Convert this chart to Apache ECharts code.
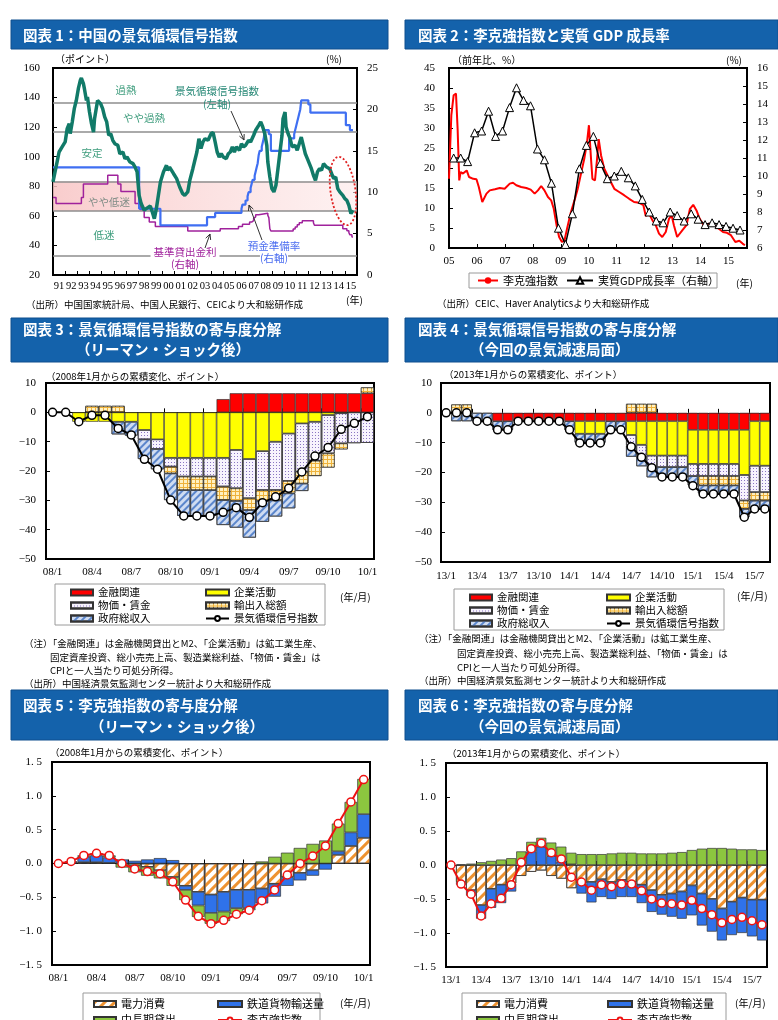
<!DOCTYPE html>
<html>
<head>
<meta charset="utf-8">
<script src="https://cdn.jsdelivr.net/npm/echarts@6.0.0/dist/echarts.min.js"></script>
<style>
html, body { margin: 0; padding: 0; background: #fff; }
#main { width: 778px; height: 1020px; }
</style>
</head>
<body>
<div id="main"></div>
<script>
var JP = '"Noto Sans CJK JP", "Noto Sans", sans-serif'
var NUM = '"Liberation Serif", "DejaVu Serif", serif'

// ---------- 図表1 : 月次（1991年1月 = 0）----------
var years1 = ['91','92','93','94','95','96','97','98','99','00','01','02','03','04','05','06','07','08','09','10','11','12','13','14','15']
var signalIdx = [[0,83],[2,89.7],[4,96.4],[6,103.2],[9,106.6],[12,110],[14,119],[16,122.4],[17,115.6],[19,123.5],[21,132.5],[23,138],[25,146],[27,151.7],[28,153.2],[30,149.4],[31,146],[33,138],[34,140.4],[36,130.2],[38,122.4],[40,116.7],[41,125.7],[44,138],[45,139.3],[47,135.9],[49,132.5],[51,126.9],[53,123.5],[55,114.5],[57,115.6],[59,111.1],[61,108.8],[64,107.7],[66,102],[69,103.2],[71,98.7],[73,99.8],[76,96.4],[79,95.3],[81,93],[83,89.7],[85,73.9],[87,68.3],[90,63.8],[92,64.9],[96,66.7],[98,62.6],[100,58.1],[102,64.9],[104,73.9],[106,82.9],[109,89.7],[112,94.2],[113,90.8],[115,93],[117,90.8],[119,88.5],[122,85.2],[125,79.5],[128,75],[130,73.9],[133,76.2],[135,84],[138,91.9],[140,97.6],[142,103.2],[144,112.2],[146,105.5],[148,110],[150,112.2],[153,111.1],[156,115.6],[158,116.3],[160,110],[162,103.2],[164,99.8],[166,102],[168,99.8],[171,98.7],[173,102],[175,103.2],[177,106.6],[179,103.2],[181,106.6],[184,104.3],[186,108.8],[188,106.6],[190,107.7],[193,111.1],[195,110],[198,114.5],[200,117.9],[203,121.2],[205,123.5],[207,120.1],[209,115.6],[211,107.7],[212,96.4],[214,86.3],[216,78.4],[218,76.2],[220,80.7],[222,91.9],[224,103.2],[226,114.5],[227,125.7],[229,130.2],[230,120.1],[232,115.6],[234,112.2],[236,106.6],[239,107.7],[241,104.3],[243,108.8],[245,113.3],[247,107.7],[249,102],[251,98.7],[253,95.3],[255,91.9],[257,87.4],[259,84],[261,89.7],[263,91.9],[265,90.8],[267,95.3],[270,93],[273,91.9],[275,88.5],[277,85.2],[279,86.3],[281,78.4],[283,76.2],[286,73.9],[288,71.6],[290,70.5],[292,67.1],[294,61.5],[296,63.8]]
var reserveRatio = [[0,13],[85,8],[106,6],[152,7],[160,7.5],[186,8],[187,8.5],[190,9],[192,9.5],[193,10],[195,10.5],[196,11],[197,11.5],[199,12],[200,12.5],[201,13],[202,13.5],[203,14.5],[204,15],[206,15.5],[207,16],[208,16.5],[209,17.5],[213,17],[215,15],[233,16.5],[238,17],[239,17.5],[240,18],[241,18.5],[242,19],[243,19.5],[244,20],[245,21.1],[252,20.6],[254,19.6],[289,18.1],[293,17.5],[296,17.5]]
var lendingRate = [[0,9.36],[3,8.64],[28,9.36],[30,10.98],[54,12.06],[64,10.98],[67,10.08],[81,8.64],[86,7.92],[90,6.93],[95,6.39],[101,5.85],[133,5.31],[165,5.58],[183,5.85],[187,6.12],[194,6.39],[196,6.57],[198,6.84],[199,7.02],[200,7.29],[203,7.47],[212,7.2],[213,6.93],[214,5.58],[215,5.31],[237,5.56],[239,5.81],[241,6.06],[243,6.31],[246,6.56],[257,6.31],[258,6.0],[286,5.6],[290,5.35],[292,5.1],[293,4.85],[295,4.6],[296,4.6]]
var bandLines = [136.7, 116.7, 83.3, 63.3, 33.3]

// ---------- 図表2 : 月次（2005年1月 = 0）----------
var liIdx2 = [[0,17.3],[1,33.2],[2,38.2],[3,38.6],[3.7,29.8],[4.4,16.9],[5,19],[6,18.6],[7.6,19.4],[8.6,17.75],[10.4,17.3],[11.8,17.2],[12.8,15.25],[14.3,11.5],[15.1,11.9],[16.1,13.6],[17.5,14.4],[19.7,14.7],[21.8,15],[23.9,14.8],[26.1,16.1],[27.5,16.3],[28.9,15.7],[31,15.25],[33.2,15],[35.1,14.6],[36.8,13.6],[38.2,14.4],[39.6,15.5],[41,14.4],[42.5,12.75],[43.9,11.9],[45,9.8],[46.2,5.7],[47.3,2.75],[48.5,1.5],[49.6,1.9],[50.7,4.8],[52.2,8.6],[53.9,11.9],[55.3,14.8],[56.7,18.6],[58.1,22.3],[59.3,26.5],[60.1,30.7],[61,22.3],[61.6,17.3],[62.7,16.9],[63.6,22.3],[64.3,27.2],[65.3,23.2],[66.7,19.8],[68.8,17.3],[71,14.8],[73.1,14],[75.2,13.2],[77.4,12.3],[79.5,11.5],[81.7,11.3],[83.5,10.7],[84.5,8],[85.9,8.6],[87.4,6.9],[88.8,5.7],[90.2,3.6],[91.6,2.75],[93.1,4],[94.5,7.3],[95.6,8.2],[96.6,5.7],[98,2.75],[100.2,4.4],[102,5.7],[103.5,9.8],[104.9,10.8],[106.3,9.4],[107.7,7.3],[109.4,5.7],[111.6,6.1],[113.7,5.8],[115.9,4.8],[117.7,4],[119.4,3.8],[121.1,3.2],[123,1.5],[124.7,1.8],[126.1,1.1],[127.1,0.7]]
// 四半期（2005Q1〜2015Q2）
var gdpGrowth = [11.0,11.0,10.8,12.4,12.5,13.6,12.2,12.5,13.8,14.9,14.2,13.9,11.5,10.9,9.6,7.1,6.2,7.9,10.4,11.7,12.2,10.7,9.85,10.0,10.26,9.9,9.45,8.7,8.0,7.5,7.4,8.0,7.8,7.5,7.9,7.6,7.3,7.4,7.3,7.2,7.1,7.0]

// ---------- 図表3 ----------
var months3 = ['08/1','08/2','08/3','08/4','08/5','08/6','08/7','08/8','08/9','08/10','08/11','08/12','09/1','09/2','09/3','09/4','09/5','09/6','09/7','09/8','09/9','09/10','09/11','09/12','10/1']
var kinyu3 = [0,0,0,0,0,0,0,0,0,0,0,0,0,4.5,6.5,6.5,6.5,6.5,6.5,6.5,6.5,6.5,6.5,6.5,6.5]
var kigyo3 = [0,0,-3.2,-3.2,-3.2,-3.2,-3.2,-6.0,-9.2,-15.5,-15.5,-15.5,-15.5,-15.5,-12.8,-15.9,-13.2,-10.0,-7.2,-3.75,-3.2,-0.9,-0.3,0,0]
var bukka3 = [0,0,0,0,0,0,0,-3.2,-3.3,-3.0,-6.4,-6.4,-6.4,-9.8,-13.1,-13.4,-13.3,-16.5,-16.2,-16.5,-13.3,-13.1,-10.3,-10.5,-10.4]
var yushutsu3 = [0,0,0,2.2,2.2,2.2,0,0,0,-2.3,-4.6,-4.6,-4.6,-4.6,-4.3,-4.0,-3.7,-3.5,-4.2,-4.0,-5.2,-4.8,-2.0,0,2.0]
var seifu3 = [0,0,0,0,0,-4.3,-4.7,-6.7,-6.9,-9.1,-8.8,-8.8,-8.8,-8.5,-9.1,-9.4,-7.1,-5.5,-5.1,-2.55,0,0,0,0,0]
var signal3 = [0,0,-3.2,-1.0,-1.0,-5.5,-7.7,-16.0,-19.4,-29.9,-35.3,-35.3,-35.3,-34.1,-32.5,-35.8,-30.8,-28.8,-25.9,-20.3,-14.9,-12.0,-5.8,-3.75,-1.5]

// ---------- 図表4 ----------
var months4 = ['13/1','13/2','13/3','13/4','13/5','13/6','13/7','13/8','13/9','13/10','13/11','13/12','14/1','14/2','14/3','14/4','14/5','14/6','14/7','14/8','14/9','14/10','14/11','14/12','15/1','15/2','15/3','15/4','15/5','15/6','15/7','15/8']
var kinyu4 = [0,0,0,0,0,-2.8,-2.8,-2.8,-2.8,-2.8,-2.8,-2.8,-2.8,-2.8,-2.8,-2.8,-2.8,-2.8,-2.8,-2.8,-2.8,-2.8,-2.8,-2.8,-5.7,-5.7,-5.7,-5.7,-5.7,-5.7,-2.8,-2.8]
var kigyo4 = [0,0,0,0,0,0,0,0,0,0,0,0,0,-4.2,-4.2,-4.2,0,0,-4.6,-7.9,-11.5,-11.5,-11.5,-11.5,-11.4,-11.4,-11.4,-11.4,-11.4,-15.1,-14.9,-14.9]
var bukka4 = [0,0,0,0,0,0,0,0,0,0,0,0,0,0,0,0,0,0,-3.6,-3.6,-3.9,-3.9,-3.9,-3.9,-4.1,-4.1,-4.1,-4.1,-4.1,-8.6,-8.9,-8.9]
var yushutsu4 = [0,2.8,2.8,0,0,0,0,0,0,0,0,0,0,0,0,0,0,0,3.0,3.0,3.0,0,0,0,0,-3.1,-3.1,-3.1,-3.1,-2.8,-2.8,-2.8]
var seifu4 = [0,-2.8,-2.8,-2.8,-2.8,-2.9,-2.9,0,0,0,0,0,-2.9,-3.0,-3.0,-3.0,-2.9,-2.9,-3.7,-3.6,-3.4,-3.4,-3.4,-3.4,-3.1,-2.7,-2.7,-2.7,-2.7,-2.8,-2.8,-2.8]
var signal4 = [0,0,0,-2.8,-2.8,-5.7,-5.7,-2.8,-2.8,-2.8,-2.8,-2.8,-5.7,-10.1,-10.1,-10.1,-5.7,-5.7,-11.4,-14.9,-18.4,-21.5,-21.5,-21.5,-24.4,-27.2,-27.2,-27.2,-27.2,-35.0,-32.2,-32.2]

// ---------- 図表5 ----------
var denryoku5 = [0,0,0.02,0.02,0.01,0,-0.03,-0.05,-0.1,-0.2,-0.33,-0.42,-0.46,-0.42,-0.39,-0.39,-0.37,-0.3,-0.2,-0.14,-0.1,0,0.13,0.26,0.38]
var tetsudo5 = [0,0.02,0.08,0.1,0.08,0.06,0.04,0.06,0.08,0.05,-0.06,-0.2,-0.27,-0.29,-0.27,-0.27,-0.22,-0.19,-0.13,-0.11,-0.08,-0.09,0.05,0.2,0.35]
var kashidashi5 = [0,0.01,0.02,0.03,0.03,-0.06,-0.1,-0.13,-0.12,-0.13,-0.15,-0.17,-0.16,-0.14,-0.09,-0.03,0.03,0.1,0.16,0.23,0.29,0.34,0.41,0.45,0.52]
var liIdx5 = [0,0.03,0.12,0.15,0.12,0,-0.08,-0.12,-0.15,-0.27,-0.54,-0.78,-0.89,-0.84,-0.75,-0.69,-0.55,-0.39,-0.17,0,0.11,0.26,0.59,0.91,1.24]

// ---------- 図表6 ----------
var denryoku6 = [0,-0.25,-0.37,-0.59,-0.35,-0.29,-0.27,-0.16,-0.1,-0.08,-0.16,-0.2,-0.34,-0.27,-0.25,-0.21,-0.25,-0.22,-0.25,-0.29,-0.37,-0.44,-0.42,-0.39,-0.3,-0.42,-0.5,-0.64,-0.54,-0.48,-0.51,-0.51]
var tetsudo6 = [0,-0.04,-0.08,-0.2,-0.28,-0.27,-0.12,0,0.2,0.27,0.13,0.05,0.01,-0.15,-0.3,-0.26,-0.25,-0.25,-0.22,-0.27,-0.32,-0.29,-0.34,-0.4,-0.44,-0.47,-0.48,-0.47,-0.49,-0.52,-0.54,-0.6]
var kashidashi6 = [0,0.01,0.02,0.04,0.06,0.08,0.1,0.2,0.14,0.13,0.2,0.22,0.17,0.16,0.16,0.16,0.17,0.18,0.18,0.17,0.17,0.17,0.18,0.19,0.22,0.24,0.25,0.25,0.24,0.23,0.23,0.22]
var liIdx6 = [0,-0.28,-0.43,-0.75,-0.57,-0.49,-0.29,0.04,0.24,0.32,0.18,0.09,-0.18,-0.25,-0.37,-0.29,-0.32,-0.28,-0.28,-0.38,-0.5,-0.56,-0.57,-0.59,-0.52,-0.64,-0.73,-0.85,-0.8,-0.77,-0.82,-0.88]

// ---------- styles ----------
var ST = {
  red: { color: '#ff0000' },
  yellow: { color: '#ffff00' },
  dots: { color: '#f7f3fd', decal: { symbol: 'rect', symbolSize: 1, dashArrayX: [1, 2], dashArrayY: [1, 2], color: '#8a76c2' } },
  check: { color: '#eeb23c', decal: { symbol: 'rect', symbolSize: 1, dashArrayX: [3, 1], dashArrayY: [3, 1], color: '#fff1c2' } },
  hatchBlue: { color: '#cfdcf2', decal: { symbol: 'rect', symbolSize: 1, dashArrayX: [1, 0], dashArrayY: [1.5, 2.5], rotation: -Math.PI / 4, color: '#5b86cc' } },
  hatchOrange: { color: '#ffffff', decal: { symbol: 'rect', symbolSize: 1, dashArrayX: [1, 0], dashArrayY: [2.5, 3.5], rotation: -Math.PI / 4, color: '#ee9230' } },
  blue: { color: '#2f72ea' },
  green: { color: '#8cc63f' }
}

function stackBars(list, xi, yi, stack) {
  return list.map(function (s) {
    return {
      name: s.name, type: 'bar', stack: stack, xAxisIndex: xi, yAxisIndex: yi,
      barCategoryGap: '0%',
      data: s.data.map(function (v) { return v === 0 ? null : v }),
      itemStyle: Object.assign({ borderColor: '#333', borderWidth: 0.7 }, s.style),
      z: 2
    }
  })
}

function dotLine(name, data, xi, yi, color) {
  return {
    name: name, type: 'line', xAxisIndex: xi, yAxisIndex: yi, data: data,
    symbol: 'circle', symbolSize: 8, showAllSymbol: true,
    itemStyle: { color: '#fff', borderColor: color, borderWidth: 1.5 },
    lineStyle: { color: color, width: 2 }, z: 10
  }
}

var axisText = { color: '#000', fontFamily: NUM, fontSize: 11 }
function valAxis(gi, pos, min, max, step, margin, fmt) {
  return {
    gridIndex: gi, type: 'value', position: pos, min: min, max: max, interval: step,
    axisLine: { show: false, onZero: false },
    axisTick: { show: true, inside: true, length: 4, lineStyle: { color: '#000' } },
    axisLabel: Object.assign({ margin: margin, formatter: fmt }, axisText),
    splitLine: { show: false }
  }
}
function catAxes(gi, cats, margin) {
  return [{
    gridIndex: gi, type: 'category', data: cats, position: 'bottom',
    axisLine: { show: false, onZero: false }, axisTick: { show: false },
    axisLabel: Object.assign({ interval: 2, margin: margin }, axisText)
  }, {
    gridIndex: gi, type: 'category', data: cats, position: 'bottom',
    axisLine: { show: true, onZero: true, lineStyle: { color: '#000', width: 1 } },
    axisTick: { show: true, inside: true, interval: 2, length: 4, lineStyle: { color: '#000' } },
    axisLabel: { show: false }
  }]
}
var minus = function (v) { return v < 0 ? '\u2212' + (-v) : String(v) }
var dec = function (v) { return (v < 0 ? '\u2212' : '') + Math.abs(v).toFixed(1).replace('.', '. ') }

// ---------- graphic helpers ----------
var graphics = []
function txt(x, y, s, o) {
  graphics.push({
    type: 'text', x: x, y: y, z: 50,
    style: Object.assign({ text: s, fill: '#000', fontSize: 10, fontFamily: JP,
      align: 'left', textAlign: 'left', verticalAlign: 'middle', textVerticalAlign: 'middle' }, o || {})
  })
}
function header(x, y, w, h, lines) {
  graphics.push({ type: 'rect', z: 40, shape: { x: x, y: y, width: w, height: h }, style: { fill: '#1462ab', stroke: '#0e4f8e', lineWidth: 1 } })
  lines.forEach(function (l) {
    txt(l[0], l[1], l[2], { fill: '#fff', fontSize: 14.5, fontWeight: 'bold' })
  })
}
function box(x, y, w, h) {
  graphics.push({ type: 'rect', z: 30, shape: { x: x, y: y, width: w, height: h }, style: { fill: '#fff', stroke: '#9a9a9a', lineWidth: 1 } })
}
function arrow(x1, y1, x2, y2) {
  var a = Math.atan2(y2 - y1, x2 - x1), L = 6
  graphics.push({ type: 'line', z: 50, shape: { x1: x1, y1: y1, x2: x2, y2: y2 }, style: { stroke: '#333', lineWidth: 1 } })
  graphics.push({ type: 'polyline', z: 50, shape: { points: [
    [x2 - L * Math.cos(a - 0.45), y2 - L * Math.sin(a - 0.45)], [x2, y2],
    [x2 - L * Math.cos(a + 0.45), y2 - L * Math.sin(a + 0.45)]] }, style: { stroke: '#333', lineWidth: 1, fill: null } })
}

// headers
header(11, 20, 377, 29, [[23, 35, '図表 1：中国の景気循環信号指数']])
header(405, 20, 373, 29, [[418, 35, '図表 2：李克強指数と実質 GDP 成長率']])
header(11, 318, 377, 44, [[23, 329, '図表 3：景気循環信号指数の寄与度分解'], [76, 349, '（リーマン・ショック後）']])
header(405, 318, 373, 44, [[418, 329, '図表 4：景気循環信号指数の寄与度分解'], [470, 349, '（今回の景気減速局面）']])
header(11, 690, 377, 50, [[23, 705, '図表 5：李克強指数の寄与度分解'], [90, 726, '（リーマン・ショック後）']])
header(405, 690, 373, 50, [[418, 705, '図表 6：李克強指数の寄与度分解'], [470, 726, '（今回の景気減速局面）']])

// chart 1 texts
txt(55, 59, '（ポイント）')
txt(326, 59, '(%)')
txt(346, 300, '(年)')
txt(26, 304, '（出所）中国国家統計局、中国人民銀行、CEICより大和総研作成', { fontSize: 9.5 })
var zoneC = '#3d9c7c'
txt(126, 90, '過熱', { fill: zoneC, fontSize: 10.5, align: 'center', textAlign: 'center' })
txt(144, 118, 'やや過熱', { fill: zoneC, fontSize: 10.5, align: 'center', textAlign: 'center' })
txt(92, 153, '安定', { fill: zoneC, fontSize: 10.5, align: 'center', textAlign: 'center' })
txt(109, 202, 'やや低迷', { fill: '#7f8c86', fontSize: 10.5, align: 'center', textAlign: 'center' })
txt(104, 235, '低迷', { fill: zoneC, fontSize: 10.5, align: 'center', textAlign: 'center' })
txt(217, 91, '景気循環信号指数', { fill: '#2a8a78', fontSize: 10.5, align: 'center', textAlign: 'center', backgroundColor: '#fff', padding: [1, 3] })
txt(217, 104, '(左軸)', { fill: '#2a8a78', fontSize: 10.5, align: 'center', textAlign: 'center' })
txt(185, 252, '基準貸出金利', { fill: '#a0229c', fontSize: 10.5, align: 'center', textAlign: 'center', backgroundColor: '#fff', padding: [1, 3] })
txt(185, 264, '(右軸)', { fill: '#a0229c', fontSize: 10.5, align: 'center', textAlign: 'center', backgroundColor: '#fff' })
txt(274, 246, '預金準備率', { fill: '#4a6cf0', fontSize: 10.5, align: 'center', textAlign: 'center', backgroundColor: '#fff', padding: [1, 3] })
txt(274, 258, '(右軸)', { fill: '#4a6cf0', fontSize: 10.5, align: 'center', textAlign: 'center', backgroundColor: '#fff' })
arrow(231, 111, 244, 140)
arrow(205, 248, 210, 234)
arrow(262, 240, 249, 205)
graphics.push({ type: 'ellipse', z: 45, x: 343, y: 191, rotation: 0.14, shape: { cx: 0, cy: 0, rx: 12.5, ry: 34.5 },
  style: { fill: null, stroke: '#e02020', lineWidth: 1.8, lineDash: [2, 2] } })

// chart 2 texts
txt(452, 60, '（前年比、%）')
txt(726, 60, '(%)')
txt(736, 283, '(年)')
box(469, 273, 248, 15)
txt(437, 303, '（出所）CEIC、Haver Analyticsより大和総研作成', { fontSize: 9.5 })

// chart 3 / 4 texts
var note1 = '（注）「金融関連」は金融機関貸出とM2、「企業活動」は鉱工業生産、'
var note2 = '固定資産投資、総小売売上高、製造業総利益、「物価・賃金」は'
var note3 = 'CPIと一人当たり可処分所得。'
var src34 = '（出所）中国経済景気監測センター統計より大和総研作成'
txt(46, 376, '（2008年1月からの累積変化、ポイント）', { fontSize: 9.5 })
txt(340, 597, '(年/月)')
box(55, 584, 270, 41)
txt(24, 643, note1, { fontSize: 9.5 }); txt(50, 657, note2, { fontSize: 9.5 }); txt(50, 670, note3, { fontSize: 9.5 })
txt(24, 683, src34, { fontSize: 9.5 })
txt(444, 374, '（2013年1月からの累積変化、ポイント）', { fontSize: 9.5 })
txt(737, 596, '(年/月)')
box(454, 589, 270, 41)
txt(419, 638, note1, { fontSize: 9.5 }); txt(457, 653, note2, { fontSize: 9.5 }); txt(457, 667, note3, { fontSize: 9.5 })
txt(419, 680, src34, { fontSize: 9.5 })

// chart 5 / 6 texts
txt(50, 752, '（2008年1月からの累積変化、ポイント）', { fontSize: 9.5 })
txt(340, 1003, '(年/月)')
box(83, 993, 237, 40)
txt(447, 753, '（2013年1月からの累積変化、ポイント）', { fontSize: 9.5 })
txt(735, 1003, '(年/月)')
box(462, 993, 264, 40)

// ---------- legends ----------
function legendCol(left, top, names, w, h, lh, fs) {
  return {
    orient: 'vertical', left: left, top: top, height: 60, width: 160, padding: 0, itemGap: 0,
    itemWidth: w, itemHeight: h, selectedMode: false, z: 35,
    formatter: function (n) { return n.split('#')[0] },
    textStyle: { fontSize: fs, fontFamily: JP, color: '#000', lineHeight: lh },
    data: names.map(function (n) { return typeof n === 'string' ? { name: n, icon: 'rect' } : n })
  }
}
var legends = [
  legendCol(477, 274, [{ name: '李克強指数#2' }], 20, 8, 13, 11),
  legendCol(566, 274, [{ name: '実質GDP成長率（右軸）#2' }], 26, 8, 13, 11),
  legendCol(70, 586, ['金融関連#3', '物価・賃金#3', '政府総収入#3'], 22, 6, 13, 10.5),
  legendCol(205, 586, ['企業活動#3', '輸出入総額#3', { name: '景気循環信号指数#3' }], 23, 6, 13, 10.5),
  legendCol(469, 591, ['金融関連#4', '物価・賃金#4', '政府総収入#4'], 22, 6, 13, 10.5),
  legendCol(606, 591, ['企業活動#4', '輸出入総額#4', { name: '景気循環信号指数#4' }], 23, 6, 13, 10.5),
  legendCol(93, 996, ['電力消費#5', '中長期貸出#5'], 22, 6, 16, 11),
  legendCol(217, 996, ['鉄道貨物輸送量#5', { name: '李克強指数#5' }], 24, 6, 16, 11),
  legendCol(476, 996, ['電力消費#6', '中長期貸出#6'], 22, 6, 16, 11),
  legendCol(607, 996, ['鉄道貨物輸送量#6', { name: '李克強指数#6' }], 24, 6, 16, 11)
]

// ---------- series ----------
var series = [
  {
    type: 'line', xAxisIndex: 0, yAxisIndex: 0, data: [], silent: true, z: 1,
    markArea: { silent: true, itemStyle: { color: { type: 'linear', x: 0, y: 0, x2: 1, y2: 0,
      colorStops: [{ offset: 0, color: 'rgba(248,196,196,0.85)' }, { offset: 1, color: 'rgba(253,232,232,0.6)' }] } },
      data: [[{ yAxis: bandLines[3] }, { yAxis: bandLines[2] }]] },
    markLine: { silent: true, symbol: 'none', label: { show: false },
      lineStyle: { color: '#8e8e8e', width: 1.5, type: 'solid' },
      data: bandLines.map(function (v) { return { yAxis: v } }) }
  },
  { name: 'lending', type: 'line', xAxisIndex: 0, yAxisIndex: 1, data: lendingRate, step: 'end', symbol: 'none', lineStyle: { color: '#a0229c', width: 1.5 }, z: 6 },
  { name: 'reserve', type: 'line', xAxisIndex: 0, yAxisIndex: 1, data: reserveRatio, step: 'end', symbol: 'none', lineStyle: { color: '#3f6ff2', width: 2.2 }, z: 7 },
  { name: 'signal', type: 'line', xAxisIndex: 0, yAxisIndex: 0, data: signalIdx, symbol: 'none', lineStyle: { color: '#117a68', width: 3.5 }, z: 8 },

  { name: '李克強指数#2', type: 'line', xAxisIndex: 2, yAxisIndex: 2, data: liIdx2, symbol: 'none', itemStyle: { color: '#ff0000' }, lineStyle: { color: '#ff0000', width: 2 }, z: 3 },
  { name: '実質GDP成長率（右軸）#2', type: 'line', xAxisIndex: 2, yAxisIndex: 3,
    data: gdpGrowth.map(function (v, i) { return [2 + 3 * i, v] }),
    symbol: 'triangle', symbolSize: 8, itemStyle: { color: '#fff', borderColor: '#000', borderWidth: 1 },
    lineStyle: { color: '#000', width: 1.5 }, z: 4 }
]
series = series.concat(stackBars([
  { name: '金融関連#3', data: kinyu3, style: ST.red },
  { name: '企業活動#3', data: kigyo3, style: ST.yellow },
  { name: '物価・賃金#3', data: bukka3, style: ST.dots },
  { name: '輸出入総額#3', data: yushutsu3, style: ST.check },
  { name: '政府総収入#3', data: seifu3, style: ST.hatchBlue }
], 3, 4, 's3'))
series.push(dotLine('景気循環信号指数#3', signal3, 3, 4, '#000'))
series = series.concat(stackBars([
  { name: '金融関連#4', data: kinyu4, style: ST.red },
  { name: '企業活動#4', data: kigyo4, style: ST.yellow },
  { name: '物価・賃金#4', data: bukka4, style: ST.dots },
  { name: '輸出入総額#4', data: yushutsu4, style: ST.check },
  { name: '政府総収入#4', data: seifu4, style: ST.hatchBlue }
], 5, 5, 's4'))
series.push(dotLine('景気循環信号指数#4', signal4, 5, 5, '#000'))
series = series.concat(stackBars([
  { name: '電力消費#5', data: denryoku5, style: ST.hatchOrange },
  { name: '鉄道貨物輸送量#5', data: tetsudo5, style: ST.blue },
  { name: '中長期貸出#5', data: kashidashi5, style: ST.green }
], 7, 6, 's5'))
series.push(dotLine('李克強指数#5', liIdx5, 7, 6, '#ee1111'))
series = series.concat(stackBars([
  { name: '電力消費#6', data: denryoku6, style: ST.hatchOrange },
  { name: '鉄道貨物輸送量#6', data: tetsudo6, style: ST.blue },
  { name: '中長期貸出#6', data: kashidashi6, style: ST.green }
], 9, 7, 's6'))
series.push(dotLine('李克強指数#6', liIdx6, 9, 7, '#ee1111'))

function grid(l, t, w, h) {
  return { left: l, top: t, width: w, height: h, show: true, borderColor: '#000', borderWidth: 2, backgroundColor: 'transparent', containLabel: false, outerBoundsMode: 'none' }
}

var option = {
  animation: false,
  backgroundColor: '#fff',
  textStyle: { fontFamily: JP },
  grid: [grid(53, 68, 304, 207), grid(449, 68, 298, 180), grid(46, 383, 328, 176), grid(441, 383, 329, 179), grid(52, 762, 318, 203), grid(446, 763, 321, 204)],
  xAxis: [
    { gridIndex: 0, type: 'value', position: 'bottom', min: 0, max: 300, interval: 12,
      axisLine: { show: false, onZero: false }, axisTick: { show: true, inside: true, length: 4, lineStyle: { color: '#000' } },
      axisLabel: { show: false }, splitLine: { show: false } },
    { gridIndex: 0, type: 'category', position: 'bottom', data: years1,
      axisLine: { show: false, onZero: false }, axisTick: { show: false },
      axisLabel: Object.assign({}, axisText, { interval: 0, fontSize: 10.5, margin: 6 }) },
    { gridIndex: 1, type: 'value', position: 'bottom', min: 0, max: 128, interval: 12,
      axisLine: { show: false, onZero: false }, axisTick: { show: true, inside: true, length: 4, lineStyle: { color: '#000' } },
      axisLabel: Object.assign({}, axisText, { margin: 8, formatter: function (v) { return v % 12 === 0 ? ('0' + (5 + v / 12)).slice(-2) : '' } }),
      splitLine: { show: false } }
  ].concat(catAxes(2, months3, 8), catAxes(3, months4, 9), catAxes(4, months3, 8), catAxes(5, months4, 8)),
  yAxis: [
    valAxis(0, 'left', 20, 160, 20, 13),
    valAxis(0, 'right', 0, 25, 5, 10),
    valAxis(1, 'left', 0, 45, 5, 14),
    valAxis(1, 'right', 6, 16, 1, 10),
    valAxis(2, 'left', -50, 10, 10, 10, minus),
    valAxis(3, 'left', -50, 10, 10, 9, minus),
    valAxis(4, 'left', -1.5, 1.5, 0.5, 10, dec),
    valAxis(5, 'left', -1.5, 1.5, 0.5, 10, dec)
  ],
  legend: legends,
  graphic: { elements: graphics },
  series: series
}

var chart = echarts.init(document.getElementById('main'), null, { renderer: 'canvas' })
chart.setOption(option)
</script>
</body>
</html>
